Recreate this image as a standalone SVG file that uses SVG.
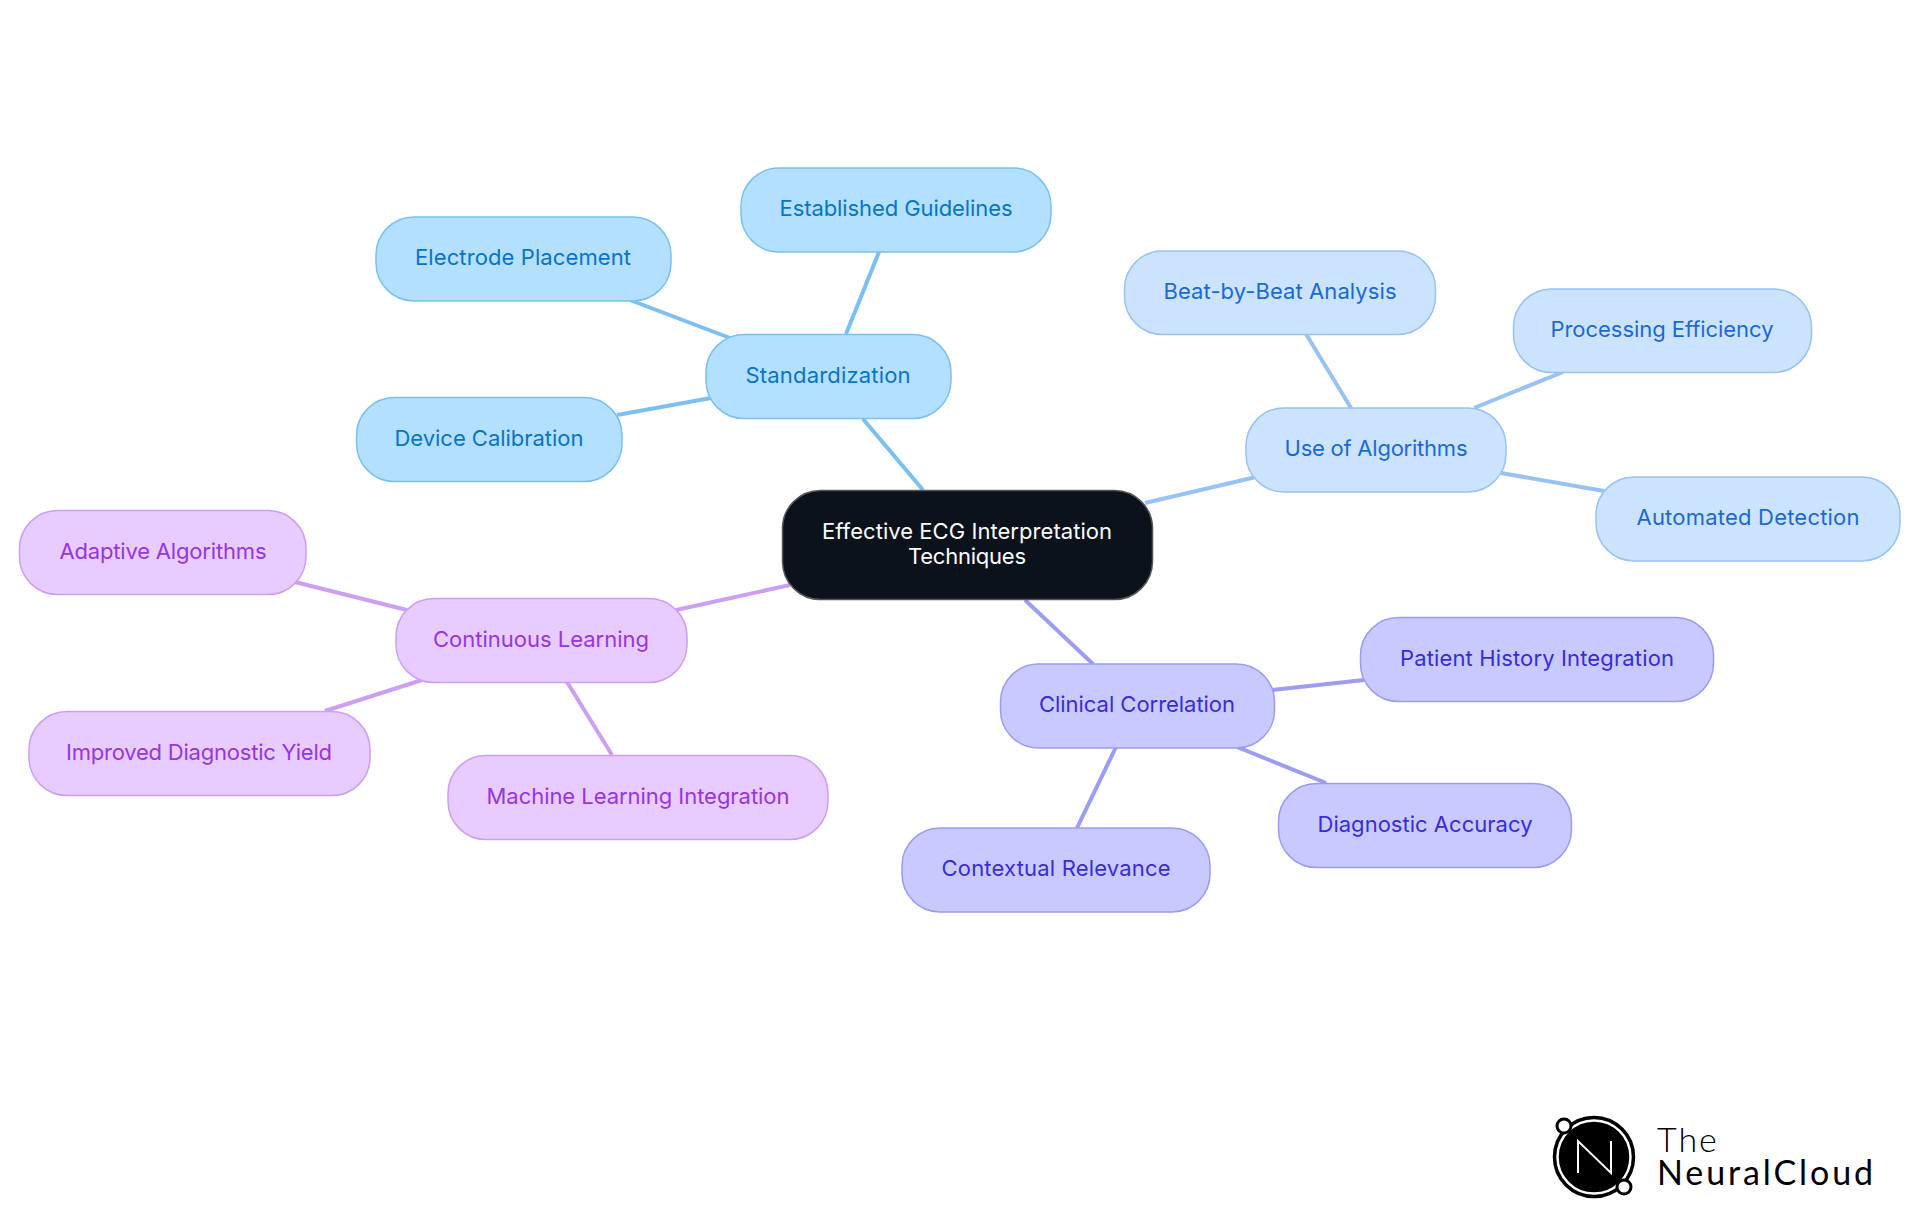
<svg xmlns="http://www.w3.org/2000/svg" width="1920" height="1215" viewBox="0 0 1920 1215">
<style>
text{font-family:"Inter","Noto Sans",sans-serif;font-size:22px;font-weight:400;text-anchor:middle}
.n rect{stroke-width:1.5}
.c line{fill:none;stroke-width:4}
.a rect{fill:#b3e0ff;stroke:#7bc0f2}.a text{fill:#0a74c4}
.b rect{fill:#cce3fd;stroke:#98c2f3}.b text{fill:#1a6ad2}
.d rect{fill:#c8caff;stroke:#9c9cf2}.d text{fill:#3a2cd4}
.e rect{fill:#e8cbff;stroke:#cc9ff2}.e text{fill:#9636e0}
#logo text{font-family:"Lato",sans-serif;text-anchor:start}
</style>
<rect width="1920" height="1215" fill="#fff"/>
<g id="connectors" class="c">
<g stroke="#7bc0f2"><line x1="923" y1="490" x2="863" y2="419"/><line x1="846" y1="334" x2="879" y2="252"/><line x1="730" y1="338" x2="630" y2="300"/><line x1="711" y1="398" x2="617" y2="415"/></g>
<g stroke="#98c2f3"><line x1="1145" y1="503" x2="1256" y2="477"/><line x1="1351" y1="408" x2="1306" y2="334"/><line x1="1474" y1="408" x2="1563" y2="372"/><line x1="1501" y1="473" x2="1604" y2="491"/></g>
<g stroke="#9c9cf2"><line x1="1025" y1="600" x2="1093" y2="664"/><line x1="1272" y1="690" x2="1364" y2="680"/><line x1="1237" y1="747" x2="1326" y2="783"/><line x1="1116" y1="747" x2="1077" y2="828"/></g>
<g stroke="#cc9ff2"><line x1="790" y1="585" x2="676" y2="610"/><line x1="407" y1="610" x2="295" y2="582"/><line x1="422" y1="680" x2="325" y2="711"/><line x1="567" y1="682" x2="612" y2="755"/></g>
</g>
<g id="root" class="n"><rect x="782.5" y="490.5" width="370" height="109" rx="38" fill="#0b121b" stroke="#555"/><text x="967" y="539" fill="#fff" textLength="290">Effective ECG Interpretation</text><text x="967" y="564" fill="#fff" textLength="118">Techniques</text></g>
<g id="standardization" class="n a"><rect x="706" y="334.5" width="245" height="84" rx="38"/><text x="828" y="383" textLength="165">Standardization</text></g>
<g id="guidelines" class="n a"><rect x="741" y="168" width="310" height="84" rx="38"/><text x="896" y="216" textLength="233">Established Guidelines</text></g>
<g id="electrode" class="n a"><rect x="376" y="217" width="295" height="84" rx="38"/><text x="523" y="265" textLength="216">Electrode Placement</text></g>
<g id="device" class="n a"><rect x="356.5" y="397.5" width="265.5" height="84" rx="38"/><text x="489" y="446" textLength="189">Device Calibration</text></g>
<g id="algorithms" class="n b"><rect x="1246" y="408" width="260" height="84" rx="38"/><text x="1376" y="456" textLength="183">Use of Algorithms</text></g>
<g id="beat" class="n b"><rect x="1124.5" y="251" width="311" height="83.5" rx="38"/><text x="1280" y="299" textLength="233">Beat-by-Beat Analysis</text></g>
<g id="processing" class="n b"><rect x="1513.5" y="289" width="298" height="83.5" rx="38"/><text x="1662" y="337" textLength="223">Processing Efficiency</text></g>
<g id="automated" class="n b"><rect x="1596" y="477" width="304" height="84" rx="38"/><text x="1748" y="525" textLength="223">Automated Detection</text></g>
<g id="clinical" class="n d"><rect x="1000.5" y="664" width="274" height="84" rx="38"/><text x="1137" y="712" textLength="196">Clinical Correlation</text></g>
<g id="patient" class="n d"><rect x="1360.5" y="617.5" width="353" height="84" rx="38"/><text x="1537" y="666" textLength="274">Patient History Integration</text></g>
<g id="accuracy" class="n d"><rect x="1278.5" y="783.5" width="293" height="84" rx="38"/><text x="1425" y="832" textLength="215">Diagnostic Accuracy</text></g>
<g id="contextual" class="n d"><rect x="902" y="828" width="308" height="84" rx="38"/><text x="1056" y="876" textLength="229">Contextual Relevance</text></g>
<g id="continuous" class="n e"><rect x="396" y="598.5" width="291" height="84" rx="38"/><text x="541" y="647" textLength="216">Continuous Learning</text></g>
<g id="adaptive" class="n e"><rect x="19.5" y="510.5" width="286.5" height="84" rx="38"/><text x="163" y="559" textLength="207">Adaptive Algorithms</text></g>
<g id="improved" class="n e"><rect x="29" y="711.5" width="341" height="84" rx="38"/><text x="199" y="760" textLength="266">Improved Diagnostic Yield</text></g>
<g id="machine" class="n e"><rect x="448" y="755.5" width="380" height="84" rx="38"/><text x="638" y="804" textLength="303">Machine Learning Integration</text></g>
<g id="logo">
<circle cx="1594" cy="1157" r="39.5" fill="#000" stroke="#000" stroke-width="3.5"/>
<circle cx="1594" cy="1157" r="36.5" fill="none" stroke="#fff" stroke-width="2.5"/>
<circle cx="1564" cy="1126" r="7" fill="#fff" stroke="#000" stroke-width="3"/>
<circle cx="1624" cy="1187" r="7" fill="#fff" stroke="#000" stroke-width="3"/>
<path d="M1578 1173V1141L1611 1173V1141" fill="none" stroke="#fff" stroke-width="2"/>
<text fill="#000"><tspan x="1657" y="1152" style="font-size:34px;font-weight:300;letter-spacing:2px">The</tspan><tspan x="1657" y="1185" style="font-size:34px;font-weight:400;letter-spacing:2.9px">NeuralCloud</tspan></text>
</g>
</svg>
